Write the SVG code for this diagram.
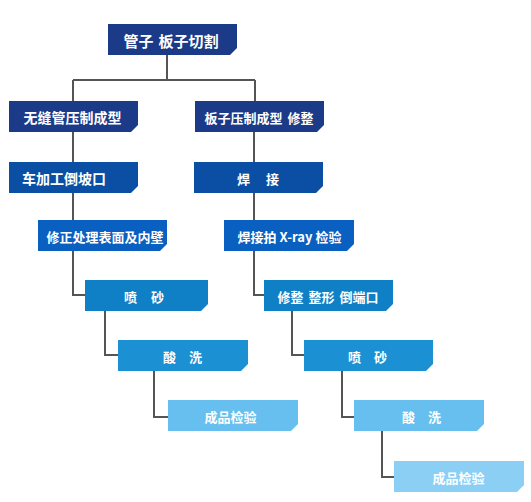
<svg xmlns="http://www.w3.org/2000/svg" width="531" height="502" viewBox="0 0 531 502">
<style>
.t{font-family:"Noto Sans CJK SC","Noto Sans",sans-serif;font-weight:700;fill:#fff;font-size:13px;text-anchor:middle;dominant-baseline:central}
.conn path{fill:none;stroke:#555;stroke-width:2}
.c1{fill:#1b3a87}.c2{fill:#0a4fa3}.c3{fill:#0a60c0}.c4{fill:#0f80c6}.c5{fill:#1b90d2}.c6{fill:#66bfee}.c7{fill:#8ccff5}
</style>
<rect width="531" height="502" fill="#fff"/>
<g class="conn" id="connectors">
<path d="M167,55V80M73,80H255M73,80V101M255,80V101"/>
<path d="M73,132V162M73,193V220M73,251V295H85M105,311V355H118M154,371V417H168"/>
<path d="M254,132V162M254,193V220M254,251V295H264M292,311V355H304M342,371V417H354M382,431V477H394"/>
</g>
<g id="n0"><path class="c1" d="M108,24h129v24l-7,7h-122z"/><text class="t" x="171" y="40" style="font-size:15px">管子<tspan dx="5">板子切割</tspan></text></g>
<g id="nL1"><path class="c1" d="M9,101h129v24l-7,7h-122z"/><text class="t" x="72.5" y="117" style="font-size:14px">无缝管压制成型</text></g>
<g id="nR1"><path class="c1" d="M195,101h129v24l-7,7h-122z"/><text class="t" x="259" y="117">板子压制成型<tspan dx="5">修整</tspan></text></g>
<g id="nL2"><path class="c2" d="M9,162h129v24l-7,7h-122z"/><text class="t" x="22" y="178" style="font-size:14px;text-anchor:start">车加工倒坡口</text></g>
<g id="nR2"><path class="c2" d="M194,162h129v24l-7,7h-122z"/><text class="t" x="258" y="178">焊<tspan dx="16">接</tspan></text></g>
<g id="nL3"><path class="c3" d="M38,220h129v24l-7,7h-122z"/><text class="t" x="105" y="236">修正处理表面及内壁</text></g>
<g id="nR3"><path class="c3" d="M224,220h130v24l-7,7h-123z"/><text class="t" x="289.5" y="236">焊接拍 X-ray 检验</text></g>
<g id="nL4"><path class="c4" d="M85,280h123v24l-7,7h-116z"/><text class="t" x="144" y="296">喷<tspan dx="14">砂</tspan></text></g>
<g id="nR4"><path class="c4" d="M264,280h129v24l-7,7h-122z"/><text class="t" x="328" y="296">修整<tspan dx="5">整形</tspan><tspan dx="5">倒端口</tspan></text></g>
<g id="nL5"><path class="c5" d="M118,340h130v24l-7,7h-123z"/><text class="t" x="182.5" y="356">酸<tspan dx="13">洗</tspan></text></g>
<g id="nR5"><path class="c5" d="M304,340h129v24l-7,7h-122z"/><text class="t" x="367.5" y="356">喷<tspan dx="13">砂</tspan></text></g>
<g id="nL6"><path class="c6" d="M168,400h130v24l-7,7h-123z"/><text class="t" x="230.5" y="416">成品检验</text></g>
<g id="nR6"><path class="c6" d="M354,400h130v24l-7,7h-123z"/><text class="t" x="421.5" y="416">酸<tspan dx="13">洗</tspan></text></g>
<g id="nR7"><path class="c7" d="M394,461h130v24l-7,7h-123z"/><text class="t" x="458.5" y="477">成品检验</text></g>
</svg>
